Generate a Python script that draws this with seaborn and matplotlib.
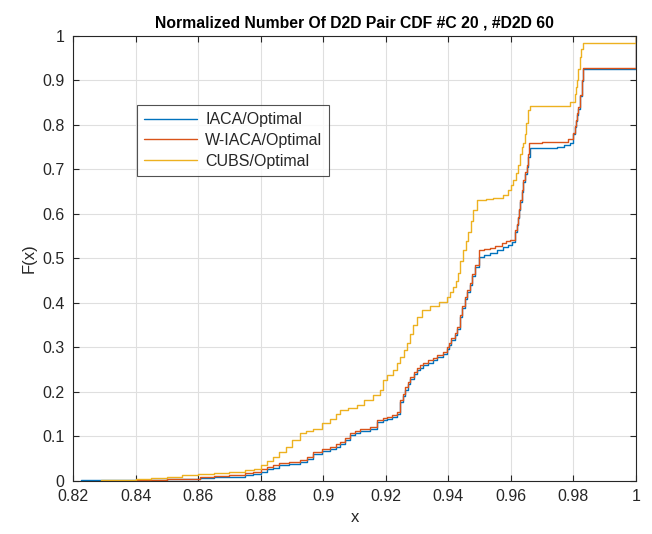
import matplotlib
matplotlib.use("Agg")
import matplotlib.pyplot as plt
import seaborn as sns
import pandas as pd

# ---- data ----
x_iaca = [0.8225, 0.8400, 0.8500, 0.8606, 0.8650, 0.8700, 0.8750, 0.8775, 0.8800, 0.8820,
          0.8840, 0.8860, 0.8890, 0.8926, 0.8948, 0.8967, 0.8996, 0.9020, 0.9040, 0.9054,
          0.9070, 0.9085, 0.9100, 0.9118, 0.9150, 0.9172, 0.9190, 0.9204, 0.9220, 0.9236,
          0.9246, 0.9255, 0.9262, 0.9270, 0.9278, 0.9290, 0.9300, 0.9310, 0.9320, 0.9335,
          0.9350, 0.9365, 0.9383, 0.9395, 0.9403, 0.9410, 0.9420, 0.9428, 0.9437, 0.9445,
          0.9453, 0.9461, 0.9469, 0.9477, 0.9485, 0.9497, 0.9515, 0.9533, 0.9555, 0.9575,
          0.9590, 0.9603, 0.9613, 0.9618, 0.9623, 0.9627, 0.9630, 0.9635, 0.9640, 0.9645,
          0.9650, 0.9655, 0.9660, 0.9700, 0.9747, 0.9770, 0.9790, 0.9800, 0.9804, 0.9808,
          0.9812, 0.9815, 0.9820, 0.9826, 0.9830, 1.0000]
F_iaca = [0.002, 0.003, 0.004, 0.006, 0.008, 0.010, 0.013, 0.016, 0.020, 0.026,
          0.030, 0.035, 0.038, 0.042, 0.049, 0.060, 0.067, 0.072, 0.077, 0.083,
          0.092, 0.103, 0.108, 0.112, 0.116, 0.132, 0.136, 0.139, 0.144, 0.150,
          0.177, 0.190, 0.205, 0.217, 0.229, 0.240, 0.249, 0.255, 0.260, 0.266,
          0.271, 0.278, 0.285, 0.296, 0.305, 0.316, 0.328, 0.341, 0.368, 0.388,
          0.408, 0.425, 0.440, 0.460, 0.480, 0.503, 0.507, 0.512, 0.519, 0.526,
          0.531, 0.537, 0.560, 0.575, 0.590, 0.610, 0.628, 0.650, 0.672, 0.690,
          0.705, 0.728, 0.748, 0.749, 0.751, 0.754, 0.760, 0.780, 0.795, 0.808,
          0.822, 0.836, 0.865, 0.898, 0.926, 1.000]

x_wiaca = [0.8400, 0.8500, 0.8606, 0.8650, 0.8700, 0.8750, 0.8775, 0.8800, 0.8820, 0.8840,
           0.8860, 0.8890, 0.8926, 0.8948, 0.8967, 0.8996, 0.9020, 0.9040, 0.9054, 0.9070,
           0.9085, 0.9100, 0.9118, 0.9150, 0.9172, 0.9190, 0.9204, 0.9220, 0.9236, 0.9246,
           0.9255, 0.9262, 0.9270, 0.9278, 0.9290, 0.9300, 0.9310, 0.9320, 0.9335, 0.9350,
           0.9365, 0.9383, 0.9395, 0.9403, 0.9410, 0.9420, 0.9428, 0.9437, 0.9445, 0.9453,
           0.9461, 0.9469, 0.9477, 0.9485, 0.9497, 0.9515, 0.9533, 0.9550, 0.9570, 0.9585,
           0.9597, 0.9613, 0.9618, 0.9623, 0.9627, 0.9630, 0.9635, 0.9640, 0.9645, 0.9650,
           0.9654, 0.9658, 0.9700, 0.9747, 0.9783, 0.9800, 0.9804, 0.9808, 0.9812, 0.9815,
           0.9820, 0.9826, 0.9830, 1.0000]
F_wiaca = [0.002, 0.004, 0.008, 0.011, 0.014, 0.018, 0.021, 0.026, 0.031, 0.035,
           0.040, 0.043, 0.047, 0.054, 0.065, 0.072, 0.077, 0.082, 0.088, 0.097,
           0.108, 0.112, 0.117, 0.121, 0.137, 0.141, 0.144, 0.149, 0.155, 0.182,
           0.196, 0.211, 0.222, 0.234, 0.245, 0.254, 0.260, 0.265, 0.271, 0.276,
           0.283, 0.290, 0.301, 0.310, 0.321, 0.333, 0.346, 0.373, 0.393, 0.413,
           0.430, 0.445, 0.465, 0.485, 0.519, 0.521, 0.524, 0.529, 0.535, 0.539,
           0.542, 0.564, 0.578, 0.593, 0.612, 0.631, 0.654, 0.676, 0.694, 0.710,
           0.735, 0.760, 0.761, 0.762, 0.768, 0.782, 0.797, 0.811, 0.826, 0.840,
           0.868, 0.900, 0.928, 1.000]

x_cubs = [0.8290, 0.8350, 0.8400, 0.8450, 0.8500, 0.8550, 0.8600, 0.8650, 0.8700, 0.8750,
          0.8780, 0.8800, 0.8820, 0.8840, 0.8860, 0.8880, 0.8900, 0.8926, 0.8945, 0.8967,
          0.8996, 0.9020, 0.9040, 0.9054, 0.9080, 0.9108, 0.9130, 0.9160, 0.9180, 0.9190,
          0.9205, 0.9223, 0.9235, 0.9245, 0.9257, 0.9268, 0.9278, 0.9287, 0.9300, 0.9316,
          0.9340, 0.9370, 0.9396, 0.9405, 0.9415, 0.9423, 0.9430, 0.9438, 0.9447, 0.9455,
          0.9463, 0.9472, 0.9480, 0.9492, 0.9520, 0.9543, 0.9575, 0.9590, 0.9600, 0.9607,
          0.9615, 0.9623, 0.9630, 0.9636, 0.9640, 0.9645, 0.9648, 0.9655, 0.9660, 0.9789,
          0.9805, 0.9808, 0.9810, 0.9815, 0.9820, 0.9825, 0.9830, 1.0000]
F_cubs = [0.002, 0.003, 0.005, 0.007, 0.010, 0.013, 0.016, 0.018, 0.021, 0.025,
          0.028, 0.036, 0.045, 0.054, 0.065, 0.077, 0.092, 0.108, 0.112, 0.117,
          0.130, 0.140, 0.150, 0.160, 0.165, 0.171, 0.182, 0.193, 0.205, 0.227,
          0.238, 0.249, 0.264, 0.279, 0.295, 0.310, 0.330, 0.350, 0.368, 0.384,
          0.393, 0.403, 0.414, 0.425, 0.436, 0.450, 0.467, 0.495, 0.519, 0.540,
          0.560, 0.585, 0.609, 0.631, 0.634, 0.636, 0.643, 0.654, 0.665, 0.676,
          0.693, 0.710, 0.735, 0.750, 0.760, 0.780, 0.804, 0.834, 0.843, 0.852,
          0.870, 0.885, 0.900, 0.925, 0.953, 0.970, 0.984, 1.000]

labels = ["IACA/Optimal", "W-IACA/Optimal", "CUBS/Optimal"]
colors = ["#0072BD", "#D95319", "#EDB120"]

title = "Normalized Number Of D2D Pair CDF #C 20 , #D2D 60"
x_ticks = [0.82, 0.84, 0.86, 0.88, 0.9, 0.92, 0.94, 0.96, 0.98, 1.0]
x_tick_labels = ["0.82", "0.84", "0.86", "0.88", "0.9", "0.92", "0.94", "0.96", "0.98", "1"]
y_ticks = [0, 0.1, 0.2, 0.3, 0.4, 0.5, 0.6, 0.7, 0.8, 0.9, 1.0]
y_tick_labels = ["0", "0.1", "0.2", "0.3", "0.4", "0.5", "0.6", "0.7", "0.8", "0.9", "1"]

# ---- plotting ----
sns.set_theme(style="whitegrid")
plt.rcParams["font.family"] = ["Liberation Sans", "DejaVu Sans"]

fig = plt.figure(figsize=(6.52, 5.34), dpi=100)
ax = fig.add_axes([0.112, 0.0993, 0.8635, 0.8333])

series = [(x_iaca, F_iaca), (x_wiaca, F_wiaca), (x_cubs, F_cubs)]
for (xs, fs), lab, col in zip(series, labels, colors):
    df = pd.DataFrame({"x": [xs[0]] + xs, "F": [0.0] + fs})
    sns.lineplot(data=df, x="x", y="F", ax=ax, color=col, lw=1.0,
                 drawstyle="steps-post", estimator=None, sort=False, label=lab)

ax.set_xlim(0.82, 1.0)
ax.set_ylim(0, 1)
ax.set_xticks(x_ticks)
ax.set_xticklabels(x_tick_labels)
ax.set_yticks(y_ticks)
ax.set_yticklabels(y_tick_labels)
ax.set_facecolor("white")
ax.grid(True, color="#DFDFDF", lw=0.8)
for s in ax.spines.values():
    s.set_visible(True)
    s.set_color("#262626")
    s.set_linewidth(0.8)
ax.tick_params(direction="in", length=4, width=0.8, colors="#262626",
               labelsize=11.5, top=True, right=True, bottom=True, left=True,
               labelcolor="#262626", pad=6)
ax.set_xlabel("x", fontsize=12, color="#262626", labelpad=4)
ax.set_ylabel("F(x)", fontsize=12, color="#262626", labelpad=4)
ax.set_title(title, fontsize=11.3, fontweight="bold", color="black", pad=6)

leg = ax.legend(loc="upper left", bbox_to_anchor=(0.114, 0.845), frameon=True,
                fancybox=False, edgecolor="#262626", fontsize=11.5,
                handlelength=3.3, borderpad=0.45, labelspacing=0.36, borderaxespad=0,
                handletextpad=0.5)
leg.get_frame().set_linewidth(0.8)

fig.savefig("out.png", dpi=100, facecolor="white")
